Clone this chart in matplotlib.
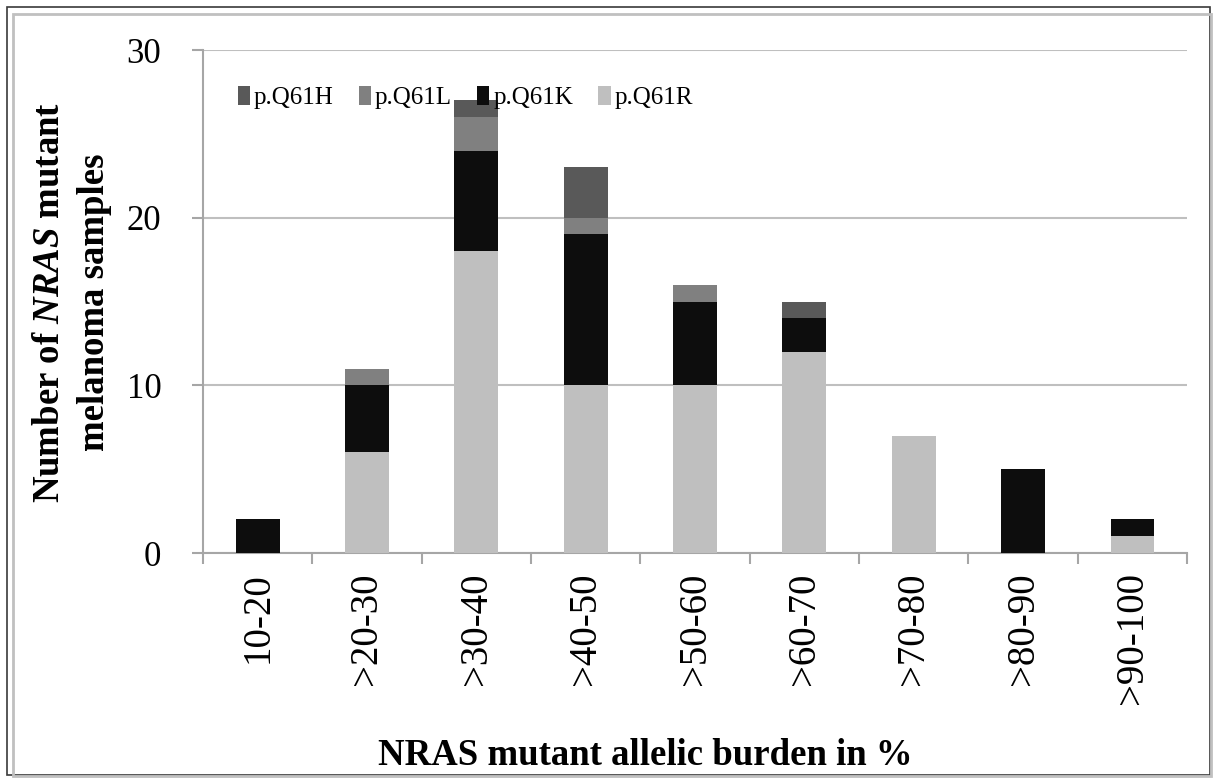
import matplotlib
matplotlib.use("Agg")
import matplotlib.pyplot as plt
import numpy as np
from matplotlib.patches import Rectangle

plt.rcParams['font.family'] = ['Liberation Serif', 'DejaVu Serif']
plt.rcParams['mathtext.fontset'] = 'custom'
plt.rcParams['mathtext.rm'] = 'Liberation Serif'
plt.rcParams['mathtext.it'] = 'Liberation Serif:italic'
plt.rcParams['mathtext.bf'] = 'Liberation Serif:bold'
plt.rcParams['mathtext.bfit'] = 'Liberation Serif:italic:bold'

categories = ['10-20', '>20-30', '>30-40', '>40-50', '>50-60',
              '>60-70', '>70-80', '>80-90', '>90-100']
q61r = [0, 6, 18, 10, 10, 12, 7, 0, 1]
q61k = [2, 4, 6, 9, 5, 2, 0, 5, 1]
q61l = [0, 1, 2, 1, 1, 0, 0, 0, 0]
q61h = [0, 0, 1, 3, 0, 1, 0, 0, 0]

colors = {'p.Q61R': '#bfbfbf', 'p.Q61K': '#0d0d0d',
          'p.Q61L': '#808080', 'p.Q61H': '#595959'}

fig = plt.figure(figsize=(12.14, 7.78), dpi=100)
ax = fig.add_axes([0.1672, 0.2892, 0.8106, 0.6465])

x = np.arange(len(categories))
w = 0.4
bottom = np.zeros(len(categories))
handles = {}
for name, vals in [('p.Q61R', q61r), ('p.Q61K', q61k), ('p.Q61L', q61l), ('p.Q61H', q61h)]:
    b = ax.bar(x, vals, w, bottom=bottom, color=colors[name], label=name, zorder=3)
    handles[name] = b
    bottom += np.array(vals)

ax.set_xlim(-0.5, len(categories) - 0.5)
ax.set_ylim(0, 30)
ax.set_yticks([0, 10, 20, 30])
ax.yaxis.grid(True, color='#bfbfbf', linewidth=1.5, zorder=0)
ax.set_axisbelow(True)

for s in ['top', 'right']:
    ax.spines[s].set_visible(False)
for s in ['left', 'bottom']:
    ax.spines[s].set_color('#a6a6a6')
    ax.spines[s].set_linewidth(1.5)

ax.set_xticks(x)
ax.set_xticklabels(categories, rotation=90, va='top')
ax.set_xticks(np.arange(-0.5, len(categories)), minor=True)
ax.tick_params(axis='x', which='major', length=0, pad=14, labelsize=28)
ax.tick_params(axis='x', which='minor', length=8, width=1.5, color='#a6a6a6')
ax.tick_params(axis='y', length=8, width=1.5, color='#a6a6a6', labelsize=25, pad=22)

ax.set_xlabel('NRAS mutant allelic burden in %', fontsize=26.5, fontweight='bold')
ax.xaxis.set_label_coords(0.449, -0.368)

# two-line y label, drawn line by line
fig.text(50 / 1214, 1 - 302 / 778, 'Number of $\\mathbfit{NRAS}$ mutant',
         rotation=90, ha='center', va='center', fontsize=26.5, fontweight='bold')
fig.text(95 / 1214, 1 - 302 / 778, 'melanoma samples',
         rotation=90, ha='center', va='center', fontsize=26.5, fontweight='bold')

order = ['p.Q61H', 'p.Q61L', 'p.Q61K', 'p.Q61R']
ax.legend([handles[n] for n in order], order, ncol=4, frameon=False,
          loc='center left', bbox_to_anchor=(0.025, 0.906), fontsize=18,
          handlelength=0.5, handleheight=0.8, handletextpad=0.15,
          columnspacing=1.0, borderaxespad=0)

# figure frame
fig.patches.append(Rectangle((7 / 1214, 3 / 778), 1203 / 1214, 768 / 778,
                             transform=fig.transFigure, fill=False,
                             edgecolor='#3a3a3a', linewidth=1.2))
fig.patches.append(Rectangle((13 / 1214, 2 / 778), 1198 / 1214, 762 / 778,
                             transform=fig.transFigure, fill=False,
                             edgecolor='#c0c0c0', linewidth=2))

plt.savefig('out.png', dpi=100)
